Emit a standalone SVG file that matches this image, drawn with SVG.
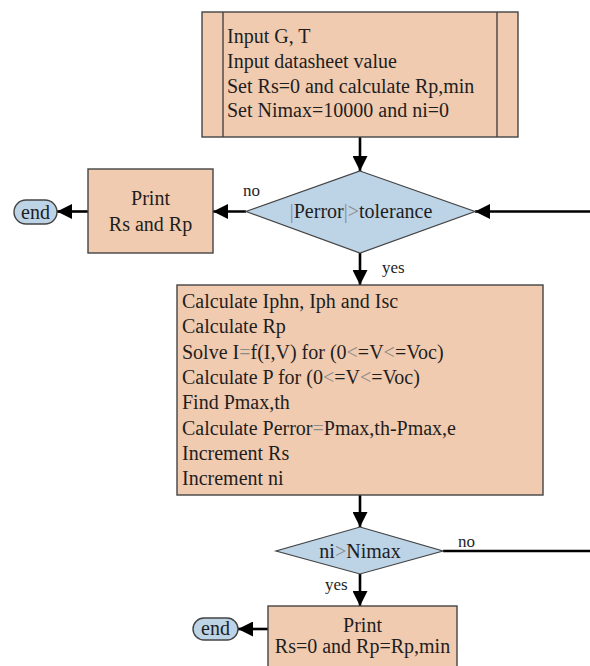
<svg xmlns="http://www.w3.org/2000/svg" width="590" height="666" viewBox="0 0 590 666">
<style>
.box{fill:#F1CBB0;stroke:#444;stroke-width:1.4}
.dec{fill:#BDD3E6;stroke:#444;stroke-width:1.2}
.term{fill:#BDD3E6;stroke:#444;stroke-width:1.4}
.t{font-family:"Liberation Serif","Times New Roman",serif;font-size:20px;fill:#1e1e1e}
.lbl{font-family:"Liberation Serif","Times New Roman",serif;font-size:17px;fill:#1e1e1e}
.c{text-anchor:middle}
.g{fill:#8a8a8a}
.conn{fill:none;stroke:#000;stroke-width:2.6}
</style>
<defs>
<marker id="ah" viewBox="0 0 16 16" markerWidth="16" markerHeight="15" refX="16" refY="8" orient="auto" markerUnits="userSpaceOnUse">
<path d="M0,0 L16,8 L0,16 Z" fill="#000"/>
</marker>
</defs>
<rect width="590" height="666" fill="#fff"/>

<g id="connectors">
<line class="conn" x1="360" y1="137" x2="360" y2="171" marker-end="url(#ah)"/>
<line class="conn" x1="246" y1="211.5" x2="213" y2="211.5" marker-end="url(#ah)"/>
<line class="conn" x1="88" y1="211.5" x2="57" y2="211.5" marker-end="url(#ah)"/>
<line class="conn" x1="360" y1="253" x2="360" y2="285" marker-end="url(#ah)"/>
<line class="conn" x1="360" y1="495" x2="360" y2="527" marker-end="url(#ah)"/>
<line class="conn" x1="360" y1="574" x2="360" y2="606" marker-end="url(#ah)"/>
<line class="conn" x1="268" y1="629" x2="238" y2="629" marker-end="url(#ah)"/>
<polyline class="conn" points="443,551 592,551 592,211.5 475,211.5" marker-end="url(#ah)"/>
</g>

<g id="start">
<rect class="box" x="202" y="12" width="316" height="125"/>
<line x1="223" y1="12" x2="223" y2="137" stroke="#444" stroke-width="1.4"/>
<line x1="497" y1="12" x2="497" y2="137" stroke="#444" stroke-width="1.4"/>
<text class="t" x="227" y="43">Input G, T</text>
<text class="t" x="227" y="68">Input datasheet value</text>
<text class="t" x="227" y="92.5">Set Rs=0 and calculate Rp,min</text>
<text class="t" x="227" y="117">Set Nimax=10000 and ni=0</text>
</g>

<g id="decision1">
<polygon class="dec" points="360,171 475,211.5 360,253 246,211.5"/>
<text class="t c" x="361" y="218"><tspan class="g">|</tspan>Perror<tspan class="g">|&gt;</tspan>tolerance</text>
</g>
<text class="lbl" x="243" y="196">no</text>
<text class="lbl" x="382" y="273">yes</text>

<g id="print1">
<rect class="box" x="88" y="169" width="125" height="84"/>
<text class="t c" x="150.5" y="205">Print</text>
<text class="t c" x="150.5" y="230.5">Rs and Rp</text>
</g>

<g id="end1">
<rect class="term" x="14" y="200" width="43" height="24" rx="12" ry="12"/>
<text class="t c" x="35.5" y="218.5">end</text>
</g>

<g id="compute">
<rect class="box" x="177" y="285" width="366" height="210"/>
<text class="t" x="182" y="308">Calculate Iphn, Iph and Isc</text>
<text class="t" x="182" y="333.3">Calculate Rp</text>
<text class="t" x="182" y="358.6">Solve I<tspan class="g">=</tspan>f(I,V) for (0<tspan class="g">&lt;</tspan>=V<tspan class="g">&lt;</tspan>=Voc)</text>
<text class="t" x="182" y="383.9">Calculate P for (0<tspan class="g">&lt;</tspan>=V<tspan class="g">&lt;</tspan>=Voc)</text>
<text class="t" x="182" y="409.2">Find Pmax,th</text>
<text class="t" x="182" y="434.5">Calculate Perror<tspan class="g">=</tspan>Pmax,th-Pmax,e</text>
<text class="t" x="182" y="459.8">Increment Rs</text>
<text class="t" x="182" y="485">Increment ni</text>
</g>

<g id="decision2">
<polygon class="dec" points="360,527 443,551 360,574 276,551"/>
<text class="t c" x="360" y="557.5">ni<tspan class="g">&gt;</tspan>Nimax</text>
</g>
<text class="lbl" x="458" y="547">no</text>
<text class="lbl" x="325" y="590">yes</text>

<g id="print2">
<rect class="box" x="268" y="606" width="189" height="70"/>
<text class="t c" x="362.5" y="632">Print</text>
<text class="t c" x="362.5" y="653">Rs=0 and Rp=Rp,min</text>
</g>

<g id="end2">
<rect class="term" x="193" y="618" width="45" height="22" rx="11" ry="11"/>
<text class="t c" x="215.5" y="635">end</text>
</g>
</svg>
